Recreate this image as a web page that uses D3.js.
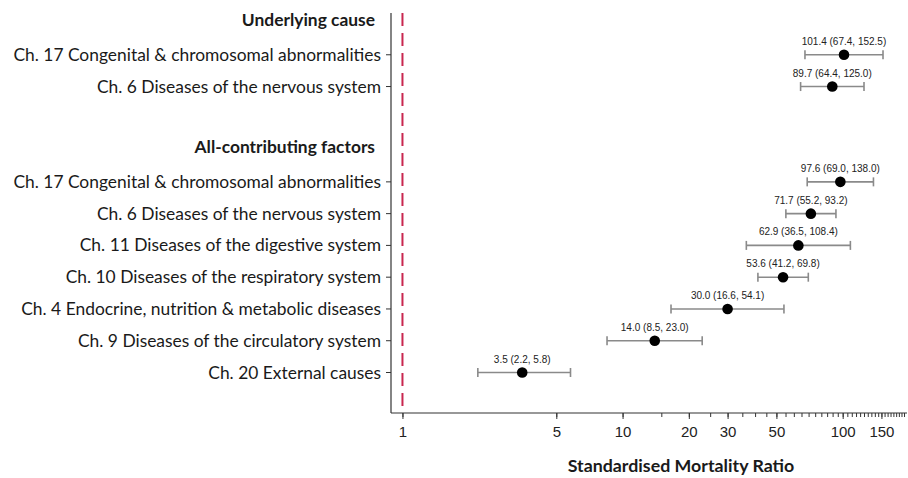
<!DOCTYPE html>
<html lang="en">
<head>
  <meta charset="UTF-8">
  <title>SMR forest plot</title>
  <script src="https://d3js.org/d3.v7.min.js"></script>
  <style>
    body { margin: 0; background: #fff; }
  </style>
</head>
<body>
  <div id="root"></div>
  <script>
    // rows from top to bottom; null smr = section header / blank line
    const rowLabels = [
      'Underlying cause',
      'Ch. 17 Congenital & chromosomal abnormalities',
      'Ch. 6 Diseases of the nervous system',
      '',
      'All-contributing factors',
      'Ch. 17 Congenital & chromosomal abnormalities',
      'Ch. 6 Diseases of the nervous system',
      'Ch. 11 Diseases of the digestive system',
      'Ch. 10 Diseases of the respiratory system',
      'Ch. 4 Endocrine, nutrition & metabolic diseases',
      'Ch. 9 Diseases of the circulatory system',
      'Ch. 20 External causes'
    ];
    const smr   = [null, 101.4, 89.7, null, null, 97.6, 71.7, 62.9, 53.6, 30.0, 14.0, 3.5];
    const ciLow = [null, 67.4, 64.4, null, null, 69.0, 55.2, 36.5, 41.2, 16.6, 8.5, 2.2];
    const ciHigh = [null, 152.5, 125.0, null, null, 138.0, 93.2, 108.4, 69.8, 54.1, 23.0, 5.8];
    const headerRows = [0, 4];
    const tickLabels = [1, 5, 10, 20, 30, 50, 100, 150];
    const minorTicks = [1, 5].concat(d3.range(10, 195, 5));

    const width = 908, height = 478;
    const svg = d3.select('#root').append('svg')
      .attr('width', width).attr('height', height);

    const x = d3.scaleLog().domain([0.887, 196]).range([391, 907]);
    const y = d3.scaleLinear().domain([0, 11]).range([23, 372.5]);
    const axisY = 413;
    const labelFont = 'Lato, "Open Sans", sans-serif';

    const rows = rowLabels.map((label, i) => ({
      i, label, smr: smr[i], lo: ciLow[i], hi: ciHigh[i],
      header: headerRows.includes(i)
    }));

    // left spine
    svg.append('line')
      .attr('x1', 391).attr('x2', 391)
      .attr('y1', 13).attr('y2', axisY)
      .attr('stroke', '#333').attr('stroke-width', 1.2);

    // reference line at SMR = 1
    svg.append('line')
      .attr('x1', x(1)).attr('x2', x(1))
      .attr('y1', 13).attr('y2', axisY)
      .attr('stroke', '#c8264f').attr('stroke-width', 2)
      .attr('stroke-dasharray', '13,7');

    // row labels and ticks
    const dataRows = rows.filter(d => d.smr !== null);
    svg.selectAll('.rowtick').data(dataRows).enter().append('line')
      .attr('x1', 386).attr('x2', 391)
      .attr('y1', d => y(d.i)).attr('y2', d => y(d.i))
      .attr('stroke', '#333');

    svg.selectAll('.rowlabel').data(rows.filter(d => d.label)).enter().append('text')
      .attr('x', d => d.header ? 375 : 381)
      .attr('y', d => d.header ? y(d.i) - 3 : y(d.i))
      .attr('dy', '0.35em')
      .attr('text-anchor', 'end')
      .attr('font-family', labelFont)
      .attr('font-size', 17.4)
      .attr('font-weight', d => d.header ? 'bold' : 'normal')
      .attr('fill', '#1a1a1a')
      .text(d => d.label);

    // confidence intervals
    const ci = svg.selectAll('.ci').data(dataRows).enter().append('g')
      .attr('transform', d => `translate(0,${y(d.i)})`);
    ci.append('line')
      .attr('x1', d => x(d.lo)).attr('x2', d => x(d.hi))
      .attr('stroke', '#8a8a8a').attr('stroke-width', 1.6);
    ci.append('line')
      .attr('x1', d => x(d.lo)).attr('x2', d => x(d.lo))
      .attr('y1', -4.5).attr('y2', 4.5)
      .attr('stroke', '#8a8a8a').attr('stroke-width', 1.6);
    ci.append('line')
      .attr('x1', d => x(d.hi)).attr('x2', d => x(d.hi))
      .attr('y1', -4.5).attr('y2', 4.5)
      .attr('stroke', '#8a8a8a').attr('stroke-width', 1.6);
    ci.append('circle')
      .attr('cx', d => x(d.smr)).attr('r', 5.3)
      .attr('fill', '#000');
    ci.append('text')
      .attr('x', d => x(d.smr)).attr('y', -10)
      .attr('text-anchor', 'middle')
      .attr('font-family', '"Liberation Sans", Arial, sans-serif')
      .attr('font-size', 10)
      .attr('fill', '#222')
      .text(d => `${d.smr.toFixed(1)} (${d.lo.toFixed(1)}, ${d.hi.toFixed(1)})`);

    // x axis
    const gx = svg.append('g').attr('transform', `translate(0,${axisY})`);
    gx.append('line')
      .attr('x1', 391).attr('x2', 907)
      .attr('stroke', '#333').attr('stroke-width', 1.2);
    gx.call(d3.axisBottom(x).tickValues(minorTicks).tickSize(4).tickFormat(''))
      .call(g => g.select('.domain').remove())
      .call(g => g.selectAll('.tick line').attr('stroke', '#333'));
    const gxl = svg.append('g').attr('transform', `translate(0,${axisY})`);
    gxl.call(d3.axisBottom(x).tickValues(tickLabels).tickSize(6).tickPadding(7)
        .tickFormat(d3.format('d')))
      .call(g => g.select('.domain').remove())
      .call(g => g.selectAll('.tick line').attr('stroke', '#333'))
      .call(g => g.selectAll('.tick text')
        .attr('font-family', '"Liberation Sans", Arial, sans-serif')
        .attr('font-size', 15).attr('fill', '#222'));

    svg.append('text')
      .attr('x', 681).attr('y', 466)
      .attr('dy', '0.35em')
      .attr('text-anchor', 'middle')
      .attr('font-family', labelFont)
      .attr('font-size', 17.8).attr('font-weight', 'bold')
      .attr('fill', '#1a1a1a')
      .text('Standardised Mortality Ratio');
  </script>
</body>
</html>
